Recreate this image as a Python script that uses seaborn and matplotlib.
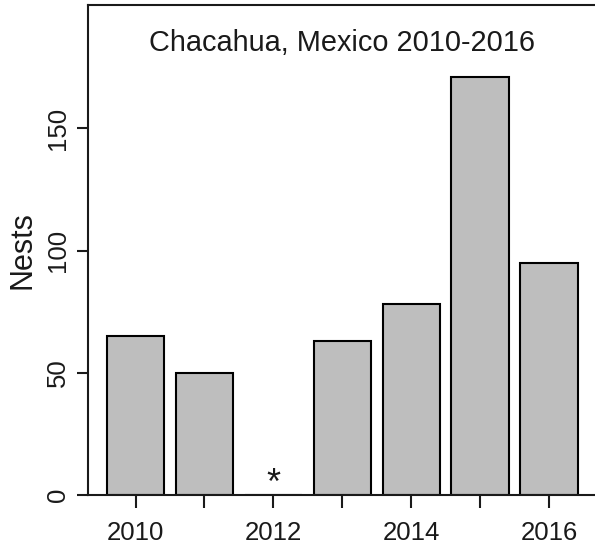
import numpy as np
import pandas as pd
import matplotlib
matplotlib.use("Agg")
import matplotlib.pyplot as plt
import seaborn as sns

# Nest counts per season at Chacahua (2012: no survey, marked with *)
years = ["2010", "2011", "2012", "2013", "2014", "2015", "2016"]
nests = [65, 50, 0, 63, 78, 171, 95]
tick_labels = ["2010", "", "2012", "", "2014", "", "2016"]
y_ticks = [0, 50, 100, 150]
missing_year = "2012"

df = pd.DataFrame({"year": years, "nests": nests})

sns.set_theme(style="white")
plt.rcParams["font.family"] = ["Liberation Sans", "DejaVu Sans"]

W, H, DPI = 595, 548, 100
fig = plt.figure(figsize=(W / DPI, H / DPI), dpi=DPI)
left, right, bottom, top = 88, 596.6, 495, 5
ax = fig.add_axes([left / W, (H - bottom) / H, (right - left) / W, (bottom - top) / H])

sns.barplot(data=df, x="year", y="nests", order=years, color="#BEBEBE",
            saturation=1, edgecolor="black", linewidth=1.5, width=0.833, ax=ax)

ax.set_xlim(-0.69, 6.69)
ax.set_ylim(0, 200.5)

tick_fs = 18.5
ink = "#1a1a1a"
ax.set_xticks(range(len(years)))
ax.set_xticklabels(tick_labels, fontsize=tick_fs, color=ink)
ax.set_yticks(y_ticks)
ax.set_yticklabels([str(v) for v in y_ticks], fontsize=tick_fs, rotation=90,
                   va="center", color=ink)
ax.tick_params(axis="x", direction="out", length=9.3, width=1.5, pad=9.5,
               color=ink, bottom=True)
ax.tick_params(axis="y", direction="out", length=8, width=1.5, pad=5,
               color=ink, left=True)

ax.set_xlabel("")
ax.set_ylabel("Nests", fontsize=22, color=ink, labelpad=6)

for s in ax.spines.values():
    s.set_visible(True)
    s.set_color(ink)
    s.set_linewidth(1.5)

ax.text(0.5, 1 - 38 / 490, "Chacahua, Mexico 2010-2016", transform=ax.transAxes,
        ha="center", va="center", fontsize=20.8, color=ink)

ax.text(years.index(missing_year), 4.5, "*", ha="center", va="center",
        fontsize=26, color=ink)

fig.savefig("out.png", dpi=DPI)
